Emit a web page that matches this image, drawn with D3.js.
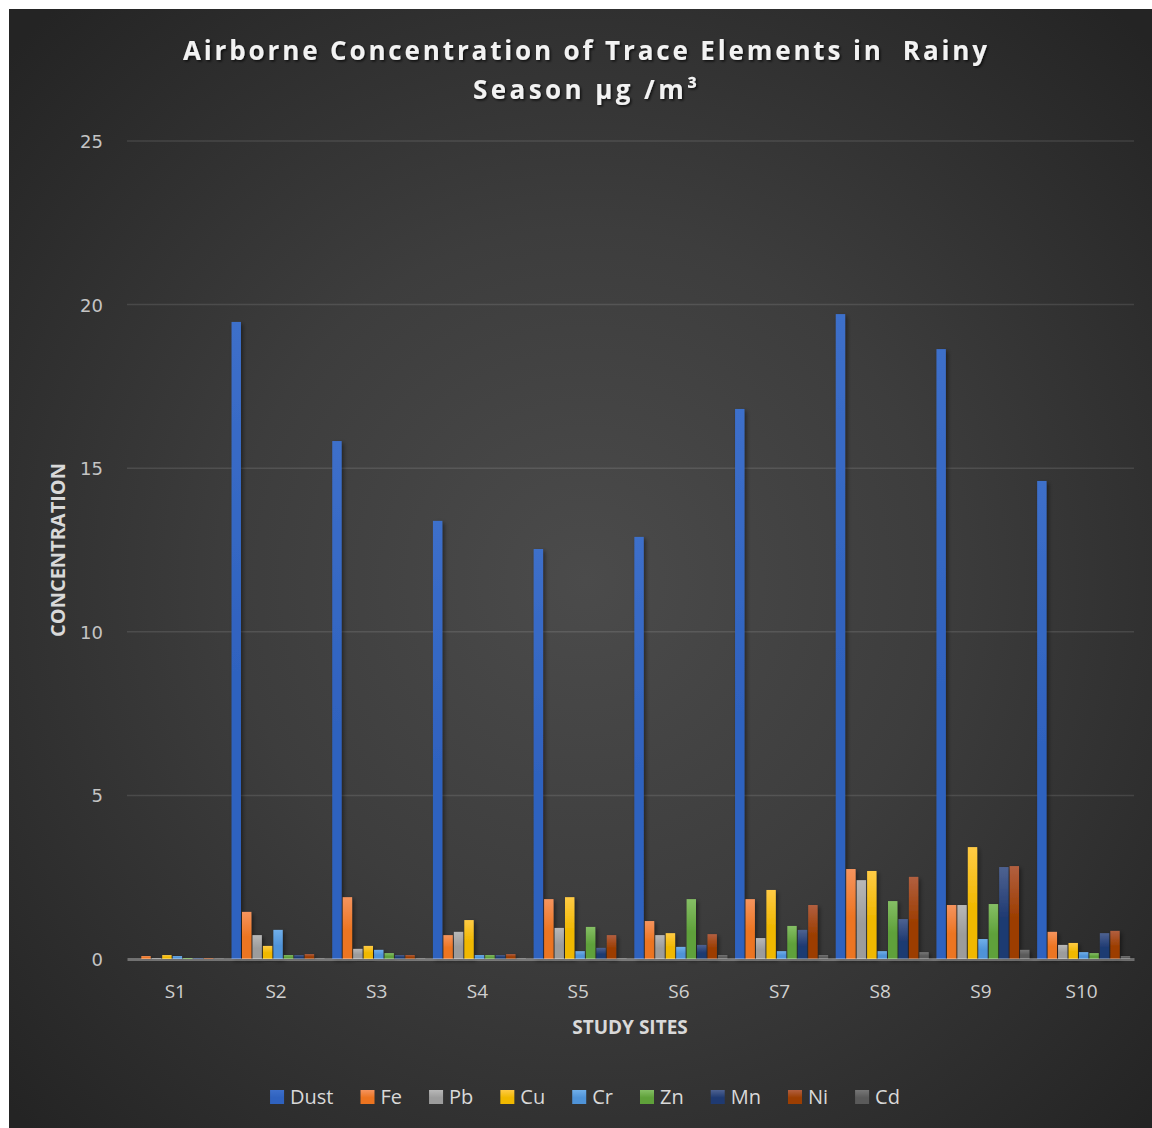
<!DOCTYPE html>
<html>
<head>
<meta charset="utf-8">
<script src="https://cdn.jsdelivr.net/npm/d3@7"></script>
<style>
  html, body { margin: 0; padding: 0; background: #ffffff; overflow: hidden; }
  svg { display: block; }
</style>
</head>
<body>
<svg id="chart" width="1152" height="1128"></svg>
<script>
// Study sites along the x axis
const sites = ["S1", "S2", "S3", "S4", "S5", "S6", "S7", "S8", "S9", "S10"];

// Measured element concentrations (µg/m³), one array per series
const dust = [0.00, 19.47, 15.83, 13.39, 12.53, 12.90, 16.81, 19.71, 18.64, 14.61];
const fe   = [0.09, 1.44, 1.89, 0.73, 1.83, 1.16, 1.83, 2.75, 1.65, 0.83];
const pb   = [0.02, 0.73, 0.31, 0.83, 0.95, 0.73, 0.64, 2.41, 1.65, 0.43];
const cu   = [0.12, 0.40, 0.40, 1.19, 1.89, 0.79, 2.11, 2.69, 3.42, 0.49];
const cr   = [0.09, 0.89, 0.28, 0.12, 0.24, 0.37, 0.24, 0.24, 0.61, 0.21];
const zn   = [0.03, 0.12, 0.18, 0.12, 0.98, 1.83, 1.01, 1.77, 1.68, 0.18];
const mn   = [0.03, 0.12, 0.12, 0.12, 0.34, 0.43, 0.89, 1.22, 2.81, 0.79];
const ni   = [0.03, 0.15, 0.12, 0.15, 0.73, 0.76, 1.65, 2.51, 2.84, 0.86];
const cd   = [0.01, 0.02, 0.02, 0.02, 0.02, 0.12, 0.12, 0.21, 0.28, 0.09];

const seriesNames = ["Dust", "Fe", "Pb", "Cu", "Cr", "Zn", "Mn", "Ni", "Cd"];
const seriesValues = [dust, fe, pb, cu, cr, zn, mn, ni, cd];

// Y axis ticks
const yTicks = [0, 5, 10, 15, 20, 25];

// Fill gradients (top colour, bottom colour) per series
const seriesColors = [
  ["#3d6fca", "#2f62bf"],
  ["#f5945e", "#ec7420"],
  ["#b8b8b8", "#9c9c9c"],
  ["#ffcb45", "#f0b800"],
  ["#70afea", "#4f93d8"],
  ["#85bf65", "#5fa13a"],
  ["#4e6291", "#1f3a72"],
  ["#b25f40", "#9c3e02"],
  ["#777777", "#5a5a5a"]
];

const W = 1152, H = 1128;
const svg = d3.select("#chart");
const defs = svg.append("defs");

// Panel background: dark radial glow
const bg = defs.append("radialGradient").attr("id", "bgGrad")
  .attr("gradientUnits", "userSpaceOnUse")
  .attr("cx", 585).attr("cy", 580).attr("r", 780);
bg.append("stop").attr("offset", "0%").attr("stop-color", "#4b4b4b");
bg.append("stop").attr("offset", "45%").attr("stop-color", "#3d3d3d");
bg.append("stop").attr("offset", "100%").attr("stop-color", "#242424");

seriesColors.forEach((c, i) => {
  const g = defs.append("linearGradient").attr("id", "g" + i)
    .attr("x1", 0).attr("y1", 0).attr("x2", 0).attr("y2", 1);
  g.append("stop").attr("offset", "0%").attr("stop-color", c[0]);
  g.append("stop").attr("offset", "55%").attr("stop-color", c[1]);
  g.append("stop").attr("offset", "100%").attr("stop-color", c[1]);
});

const shadow = defs.append("filter").attr("id", "barShadow")
  .attr("x", "-50%").attr("y", "-10%").attr("width", "220%").attr("height", "130%");
shadow.append("feDropShadow").attr("dx", 2).attr("dy", 2)
  .attr("stdDeviation", 2).attr("flood-color", "#000").attr("flood-opacity", 0.45);

const textShadow = defs.append("filter").attr("id", "textShadow")
  .attr("x", "-5%").attr("y", "-30%").attr("width", "110%").attr("height", "160%");
textShadow.append("feDropShadow").attr("dx", 1.5).attr("dy", 1.5)
  .attr("stdDeviation", 1.2).attr("flood-color", "#000").attr("flood-opacity", 0.7);

svg.append("rect").attr("x", 9).attr("y", 9).attr("width", W - 9).attr("height", H - 9)
  .attr("fill", "url(#bgGrad)");

// Scales
const x0 = d3.scaleBand().domain(sites).range([127, 1134])
  .paddingInner(0.0765).paddingOuter(0.0382);
const x1 = d3.scaleBand().domain(seriesNames).range([0, x0.bandwidth()]).paddingInner(0.1);
const y = d3.scaleLinear().domain([0, 25]).range([959, 141]);

// Gridlines
svg.append("g").selectAll("line").data(yTicks.filter(t => t > 0)).join("line")
  .attr("x1", 127).attr("x2", 1134)
  .attr("y1", d => y(d)).attr("y2", d => y(d))
  .attr("stroke", "rgba(255,255,255,0.11)").attr("stroke-width", 1.5);

// Y tick labels
const yAxis = d3.axisLeft(y).tickValues(yTicks).tickSize(0).tickPadding(0);
const yg = svg.append("g").attr("transform", "translate(103,0)").call(yAxis);
yg.select(".domain").remove();
yg.selectAll("text")
  .attr("fill", "#c4c4c4").attr("font-family", "'DejaVu Sans', sans-serif")
  .attr("font-size", 18).attr("dy", "0.36em");

// Bars
const groups = svg.append("g").selectAll("g").data(sites).join("g")
  .attr("transform", d => `translate(${x0(d)},0)`);
groups.selectAll("rect")
  .data((site, si) => seriesNames.map((name, k) => ({ name, k, v: seriesValues[k][si] })))
  .join("rect")
  .attr("x", d => x1(d.name))
  .attr("width", x1.bandwidth())
  .attr("y", d => y(d.v))
  .attr("height", d => y(0) - y(d.v))
  .attr("fill", d => `url(#g${d.k})`)
  .attr("filter", "url(#barShadow)");

// X axis line (translucent, drawn over bar bases)
const xAxis = d3.axisBottom(x0).tickSize(0).tickPadding(0);
const xg = svg.append("g").attr("transform", `translate(0,${y(0)})`).call(xAxis);
xg.select(".domain")
  .attr("stroke", "rgba(255,255,255,0.32)").attr("stroke-width", 3);
xg.selectAll("text")
  .attr("fill", "#d0d0d0").attr("font-family", "'Open Sans', sans-serif")
  .attr("font-size", 19).attr("dy", 0).attr("y", 39).attr("dx", -2);

// Axis titles
svg.append("text").text("STUDY SITES")
  .attr("x", 630).attr("y", 1034).attr("text-anchor", "middle")
  .attr("fill", "#d9d9d9").attr("font-family", "'Open Sans', sans-serif")
  .attr("font-weight", 700).attr("font-size", 19);

svg.append("text").text("CONCENTRATION")
  .attr("transform", "translate(65,550) rotate(-90)")
  .attr("text-anchor", "middle")
  .attr("fill", "#d9d9d9").attr("font-family", "'Open Sans', sans-serif")
  .attr("font-weight", 700).attr("font-size", 19)
  .attr("textLength", 174).attr("lengthAdjust", "spacingAndGlyphs");

// Title
const title = svg.append("g").attr("filter", "url(#textShadow)");
title.append("text").text("Airborne Concentration of Trace Elements in  Rainy")
  .style("white-space", "pre")
  .attr("x", 585).attr("y", 60).attr("text-anchor", "middle")
  .attr("fill", "#f2f2f2").attr("font-family", "'Open Sans', sans-serif")
  .attr("font-weight", 700).attr("font-size", 26)
  .attr("textLength", 804).attr("lengthAdjust", "spacing");
title.append("text").text("Season µg /m³")
  .style("white-space", "pre")
  .attr("x", 585).attr("y", 99).attr("text-anchor", "middle")
  .attr("fill", "#f2f2f2").attr("font-family", "'Open Sans', sans-serif")
  .attr("font-weight", 700).attr("font-size", 26)
  .attr("textLength", 224).attr("lengthAdjust", "spacing");

// Legend, laid out from measured label widths and centred
const legend = svg.append("g");
const items = legend.selectAll("g").data(seriesNames).join("g");
items.append("rect").attr("width", 14).attr("height", 14).attr("y", -7)
  .attr("fill", (d, i) => `url(#g${i})`);
items.append("text").text(d => d)
  .attr("x", 20).attr("dy", "0.35em")
  .attr("fill", "#d9d9d9").attr("font-family", "'Open Sans', sans-serif")
  .attr("font-size", 20);
const itemGap = 27;
let cursor = 0;
const offsets = [];
items.each(function () {
  const w = d3.select(this).select("text").node().getComputedTextLength();
  offsets.push(cursor);
  cursor += 20 + w + itemGap;
});
const totalW = cursor - itemGap;
const startX = 585 - totalW / 2;
items.attr("transform", (d, i) => `translate(${startX + offsets[i]},1097)`);
</script>
</body>
</html>
